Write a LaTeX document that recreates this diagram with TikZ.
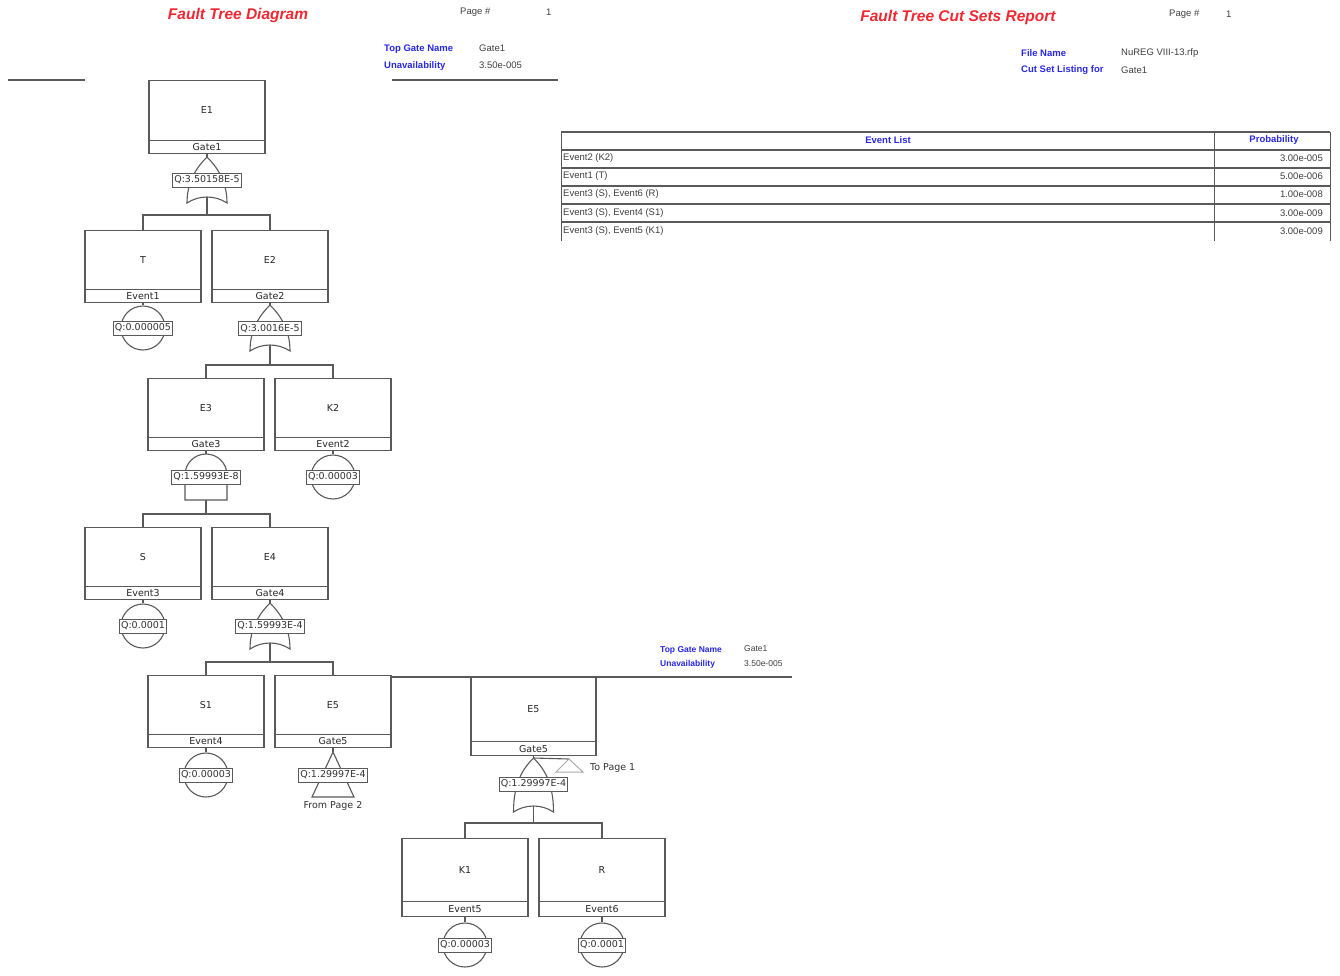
\documentclass[tikz,border=0pt]{standalone}
\usepackage{fontspec}
\setmainfont{DejaVu Sans}
\newfontfamily\rep{Liberation Sans}
\usetikzlibrary{calc}
\definecolor{ftred}{RGB}{240,40,50}
\definecolor{ftblue}{RGB}{40,40,230}
\definecolor{ftline}{RGB}{90,90,90}
\definecolor{ftlight}{RGB}{170,170,170}
\newcommand\ftnode[8]{%
 \node[fbox,minimum width=#4pt,minimum height=#5pt,anchor=north] (#1) at (#2,#3) {};
 \draw[fln] ([yshift=#6pt]#1.south west) -- ([yshift=#6pt]#1.south east);
 \node[lbl] (#1t) at ($(#1.north)!0.5!([yshift=#6pt]#1.south)$) {#7};
 \node[lbl] (#1s) at ($(#1.south)!0.5!([yshift=#6pt]#1.south)$) {#8};
}
\newcommand\orgt[4]{%
 \draw[fln,fill=white] (#2,#3) .. controls (#2+10,#3+10) and (#2+20,#3+24) .. (#2+20,#3+#4) .. controls (#2+8,#3+#4-8) and (#2-8,#3+#4-8) .. (#2-20,#3+#4) .. controls (#2-20,#3+24) and (#2-10,#3+10) .. (#2,#3) -- cycle;
 \coordinate (#1in) at (#2,#3);
 \coordinate (#1out) at (#2,#3+#4-6);
}
\begin{document}
\begin{tikzpicture}[x=1pt,y=-1pt,
 fln/.style={draw=ftline,line width=1.1pt},
 fbox/.style={draw=ftline,line width=1.3pt,rectangle,inner sep=0pt},
 lbl/.style={font=\fontsize{9.5}{11}\selectfont,text=black!85,inner sep=0pt},
 qbox/.style={draw=ftline,line width=1pt,fill=white,inner sep=1.5pt,minimum height=14pt,font=\fontsize{9.5}{11}\selectfont,text=black!80},
 circ/.style={circle,draw=ftline,line width=1.1pt,minimum size=44pt,inner sep=0pt},
 ttl/.style={font=\rep\bfseries\itshape\fontsize{15.5}{18}\selectfont,text=ftred,inner sep=0pt},
 hdb/.style={font=\rep\bfseries\fontsize{9.5}{11}\selectfont,text=ftblue,inner sep=0pt,anchor=west},
 hdt/.style={font=\rep\fontsize{9.5}{11}\selectfont,text=black!75,inner sep=0pt,anchor=west},
 hdbs/.style={hdb,font=\rep\bfseries\fontsize{8.5}{10}\selectfont},
 hdts/.style={hdt,font=\rep\fontsize{8.5}{10}\selectfont},
 tbl/.style={draw=ftline,line width=1.5pt},
 tbv/.style={draw=ftline,line width=1pt},
 thd/.style={font=\rep\bfseries\fontsize{9.5}{11}\selectfont,text=ftblue,inner sep=0pt},
 ttx/.style={font=\rep\fontsize{9.5}{11}\selectfont,text=black!75,inner sep=0pt},
 trn/.style={font=\fontsize{9.5}{11}\selectfont,text=black!80,inner sep=0pt}
]
\useasboundingbox (0,0) rectangle (1340,975);
\fill[white] (0,0) rectangle (1340,975);

% ---------- left page header ----------
\node[ttl] (t1) at (238,15) {Fault Tree Diagram};
\node[hdt] (p1) at (460,12) {Page \#};
\node[hdt] (p1n) at (546,12) {1};
\node[hdb] (h1a) at (384,49) {Top Gate Name};
\node[hdt] (h1b) at (479,48) {Gate1};
\node[hdb] (h1c) at (384,66) {Unavailability};
\node[hdt] (h1d) at (479,65) {3.50e-005};
\coordinate (la1) at (8,80); \coordinate (la2) at (85,80);
\coordinate (lb1) at (392,80); \coordinate (lb2) at (558,80);
\draw[fln] (la1) -- (la2);
\draw[fln] (lb1) -- (lb2);

% ---------- tree ----------
\ftnode{bE1}{207}{80}{116}{73}{14}{E1}{Gate1}
\ftnode{bT}{143}{230}{116}{72}{14}{T}{Event1}
\ftnode{bE2}{270}{230}{116}{72}{14}{E2}{Gate2}
\ftnode{bE3}{206}{378}{116}{72}{14}{E3}{Gate3}
\ftnode{bK2}{333}{378}{116}{72}{14}{K2}{Event2}
\ftnode{bS}{143}{527}{116}{72}{14}{S}{Event3}
\ftnode{bE4}{270}{527}{116}{72}{14}{E4}{Gate4}
\ftnode{bS1}{206}{675}{116}{72}{14}{S1}{Event4}
\ftnode{bE5}{333}{675}{116}{72}{14}{E5}{Gate5}

% Gate1 (OR)
\orgt{g1}{207}{157}{46}
\node[qbox] (g1q) at (207,180) {Q:3.50158E-5};
\draw[fln] (bE1.south) -- (g1in);
\coordinate (g1b) at (207,215);
\draw[fln] (g1out) -- (g1b);
\draw[fln] (bT.north) |- (g1b) -| (bE2.north);

% Event1
\node[circ] (cT) at (143,328) {};
\node[qbox] (cTq) at (143,328) {Q:0.000005};
\draw[fln] (bT.south) -- (cT.north);

% Gate2 (OR)
\orgt{g2}{270}{305}{46}
\node[qbox] (g2q) at (270,328.5) {Q:3.0016E-5};
\draw[fln] (bE2.south) -- (g2in);
\coordinate (g2b) at (270,365);
\draw[fln] (g2out) -- (g2b);
\draw[fln] (bE3.north) |- (g2b) -| (bK2.north);

% Gate3 (AND)
\draw[fln,fill=white] (185,475) arc[start angle=180,end angle=360,radius=21] -- (227,500) -- (185,500) -- cycle;
\coordinate (g3in) at (206,454);
\coordinate (g3out) at (206,500);
\node[qbox] (g3q) at (206,477) {Q:1.59993E-8};
\draw[fln] (bE3.south) -- (g3in);
\coordinate (g3b) at (206,514);
\draw[fln] (g3out) -- (g3b);
\draw[fln] (bS.north) |- (g3b) -| (bE4.north);

% Event2
\node[circ] (cK2) at (333,477) {};
\node[qbox] (cK2q) at (333,477) {Q:0.00003};
\draw[fln] (bK2.south) -- (cK2.north);

% Event3
\node[circ] (cS) at (143,626) {};
\node[qbox] (cSq) at (143,626) {Q:0.0001};
\draw[fln] (bS.south) -- (cS.north);

% Gate4 (OR)
\orgt{g4}{270}{603}{46}
\node[qbox] (g4q) at (270,626) {Q:1.59993E-4};
\draw[fln] (bE4.south) -- (g4in);
\coordinate (g4b) at (270,662);
\draw[fln] (g4out) -- (g4b);
\draw[fln] (bS1.north) |- (g4b) -| (bE5.north);

% Event4
\node[circ] (cS1) at (206,775) {};
\node[qbox] (cS1q) at (206,775) {Q:0.00003};
\draw[fln] (bS1.south) -- (cS1.north);

% Gate5 transfer in
\draw[fln,fill=white] (333,752) -- (354,797) -- (312,797) -- cycle;
\coordinate (g5in) at (333,752);
\node[qbox] (g5q) at (333,775) {Q:1.29997E-4};
\draw[fln] (bE5.south) -- (g5in);
\node[trn] (g5t) at (333,806) {From Page 2};

% ---------- page 2 part ----------
\coordinate (lc1) at (391,677); \coordinate (lc2) at (792,677);
\draw[fln] (lc1) -- (lc2);
\node[hdbs] (h2a) at (660,650) {Top Gate Name};
\node[hdts] (h2b) at (744,649) {Gate1};
\node[hdbs] (h2c) at (660,664) {Unavailability};
\node[hdts] (h2d) at (744,664) {3.50e-005};

\ftnode{bE5b}{533.5}{677}{125}{78}{15}{E5}{Gate5}
\ftnode{bK1}{465}{838}{126}{78}{16}{K1}{Event5}
\ftnode{bR}{602}{838}{126}{78}{16}{R}{Event6}

% Gate5 (OR)
\orgt{g6}{533.5}{758}{54}
\node[qbox] (g6q) at (533.5,784) {Q:1.29997E-4};
\draw[fln] (bE5b.south) -- (g6in);
\coordinate (g6b) at (533.5,823);
\draw[fln] (g6out) -- (g6b);
\draw[fln] (bK1.north) |- (g6b) -| (bR.north);

% To Page 1
\coordinate (tp) at (569,759);
\draw[fln] (g6in) -- (tp);
\draw[draw=ftlight,line width=1pt] (569,759) -- (583,772) -- (556,772) -- cycle;
\node[trn,anchor=west] (tpt) at (590,768) {To Page 1};

% Event5, Event6
\node[circ] (cK1) at (465,945) {};
\node[qbox] (cK1q) at (465,945) {Q:0.00003};
\draw[fln] (bK1.south) -- (cK1.north);
\node[circ] (cR) at (602,945) {};
\node[qbox] (cRq) at (602,945) {Q:0.0001};
\draw[fln] (bR.south) -- (cR.north);

% ---------- right report ----------
\node[ttl] (t2) at (958,17) {Fault Tree Cut Sets Report};
\node[hdt] (p2) at (1169,14) {Page \#};
\node[hdt] (p2n) at (1226,14) {1};
\node[hdb] (r1a) at (1021,53) {File Name};
\node[hdt] (r1b) at (1121,53) {NuREG VIII-13.rfp};
\node[hdb] (r1c) at (1021,70) {Cut Set Listing for};
\node[hdt] (r1d) at (1121,70) {Gate1};

% table
\draw[tbl] (561,132) -- (1330,132);
\foreach \yy in {150,168,186,204,222} { \draw[tbl] (561,\yy) -- (1330,\yy); }
\draw[tbv] (561,132) -- (561,241);
\draw[tbv] (1214,132) -- (1214,241);
\draw[tbv] (1330,132) -- (1330,241);
\node[thd] (th1) at (888,140.5) {Event List};
\node[thd] (th2) at (1274,140.5) {Probability};
\node[ttx,anchor=west] (r1) at (563,158) {Event2 (K2)};
\node[ttx,anchor=east] (v1) at (1323,158) {3.00e-005};
\node[ttx,anchor=west] (r2) at (563,176) {Event1 (T)};
\node[ttx,anchor=east] (v2) at (1323,176) {5.00e-006};
\node[ttx,anchor=west] (r3) at (563,194) {Event3 (S), Event6 (R)};
\node[ttx,anchor=east] (v3) at (1323,194) {1.00e-008};
\node[ttx,anchor=west] (r4) at (563,213) {Event3 (S), Event4 (S1)};
\node[ttx,anchor=east] (v4) at (1323,213) {3.00e-009};
\node[ttx,anchor=west] (r5) at (563,231) {Event3 (S), Event5 (K1)};
\node[ttx,anchor=east] (v5) at (1323,231) {3.00e-009};
\end{tikzpicture}
\end{document}
